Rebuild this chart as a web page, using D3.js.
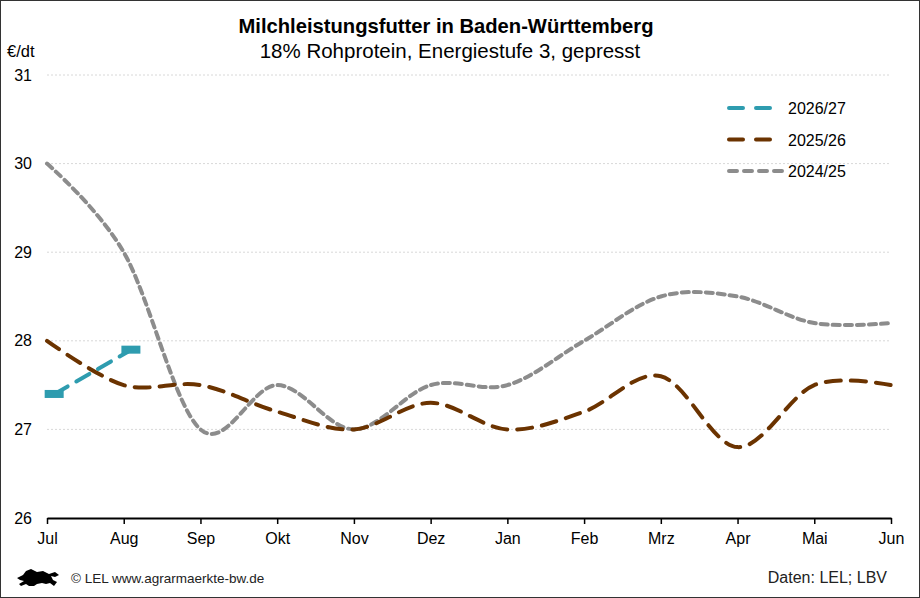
<!DOCTYPE html>
<html>
<head>
<meta charset="utf-8">
<script src="https://cdn.jsdelivr.net/npm/d3@7"></script>
<style>
  body { margin: 0; background: #fff; }
  svg { font-family: "Liberation Sans", Arial, sans-serif; }
</style>
</head>
<body>
<div id="chart"></div>
<script>
// months on the x axis (season Jul - Jun)
var months = ["Jul", "Aug", "Sep", "Okt", "Nov", "Dez", "Jan", "Feb", "Mrz", "Apr", "Mai", "Jun"];
var yTicks = [26, 27, 28, 29, 30, 31];

// €/dt values
var s2425 = [30.0, 29.0, 27.0, 27.5, 27.0, 27.5, 27.5, 28.0, 28.5, 28.5, 28.2, 28.2];
var s2526 = [28.0, 27.5, 27.5, 27.2, 27.0, 27.3, 27.0, 27.2, 27.6, 26.8, 27.5, 27.5];
// 2026/27 points sit a few days into the month
var s2627x = [0.1, 1.1];
var s2627 = [27.4, 27.9];

var W = 920, H = 598;
var margin = {top: 75, right: 29, bottom: 80, left: 47};
var width = W - margin.left - margin.right,
    height = H - margin.top - margin.bottom;

var svg = d3.select("#chart").append("svg")
    .attr("width", W)
    .attr("height", H);

// outer frame
svg.append("rect")
    .attr("x", 0.5).attr("y", 0.5)
    .attr("width", W - 1).attr("height", H - 1)
    .attr("fill", "#fff")
    .attr("stroke", "#333")
    .attr("stroke-width", 1);

var g = svg.append("g")
    .attr("transform", "translate(" + margin.left + "," + margin.top + ")");

var x = d3.scaleLinear().domain([0, months.length - 1]).range([0, width]);
var y = d3.scaleLinear().domain([26, 31]).range([height, 0]);

// gridlines
g.append("g")
    .selectAll("line")
    .data(yTicks.filter(function(d) { return d > 26; }))
    .enter().append("line")
      .attr("x1", 0).attr("x2", width)
      .attr("y1", function(d) { return y(d); })
      .attr("y2", function(d) { return y(d); })
      .attr("stroke", "#d8d8d8")
      .attr("stroke-width", 1)
      .attr("stroke-dasharray", "2,2");

// y axis labels (no line)
var yAxis = g.append("g")
    .call(d3.axisLeft(y).tickValues(yTicks).tickSize(0).tickPadding(15).tickFormat(d3.format("d")));
yAxis.select(".domain").remove();
yAxis.selectAll("text")
    .attr("font-size", "16px")
    .attr("font-family", "Liberation Sans, Arial, sans-serif")
    .attr("fill", "#000");

// x axis
var xAxis = g.append("g")
    .attr("transform", "translate(0," + height + ")")
    .call(d3.axisBottom(x)
      .tickValues(d3.range(months.length))
      .tickSize(6)
      .tickSizeOuter(0)
      .tickPadding(9)
      .tickFormat(function(i) { return months[i]; }));
xAxis.select(".domain").attr("stroke", "#000").attr("stroke-width", 2.2);
xAxis.selectAll(".tick line").attr("stroke", "#000").attr("stroke-width", 1.5);
xAxis.selectAll("text")
    .attr("font-size", "16px")
    .attr("font-family", "Liberation Sans, Arial, sans-serif")
    .attr("fill", "#000");

// lines
var line = d3.line()
    .x(function(d) { return x(d[0]); })
    .y(function(d) { return y(d[1]); })
    .curve(d3.curveCatmullRom.alpha(0));

var series = [
  {name: "2024/25", xs: d3.range(months.length), values: s2425, color: "#8c8c8c", dash: "7,5"},
  {name: "2025/26", xs: d3.range(months.length), values: s2526, color: "#6b3300", dash: "15,10"},
  {name: "2026/27", xs: s2627x, values: s2627, color: "#2e9caf", dash: "15,10"}
];

series.forEach(function(s) {
  g.append("path")
      .datum(s.xs.map(function(xi, i) { return [xi, s.values[i]]; }))
      .attr("fill", "none")
      .attr("stroke", s.color)
      .attr("stroke-width", 4)
      .attr("stroke-linecap", "round")
      .attr("stroke-dasharray", s.dash)
      .attr("d", line);
});

// dash markers on 2026/27
g.selectAll(".mk")
    .data(s2627x.map(function(xi, i) { return [xi, s2627[i]]; }))
    .enter().append("rect")
      .attr("class", "mk")
      .attr("x", function(d) { return x(d[0]) - 10; })
      .attr("y", function(d) { return y(d[1]) - 4; })
      .attr("width", 19)
      .attr("height", 8)
      .attr("fill", "#2e9caf");

// legend
var legendData = [series[2], series[1], series[0]];
var legend = svg.append("g").attr("transform", "translate(729,108)");
var keys = legend.selectAll(".key")
    .data(legendData)
    .enter().append("g")
      .attr("class", "key")
      .attr("transform", function(d, i) { return "translate(0," + (i * 31.5) + ")"; });
keys.append("line")
    .attr("x1", 0).attr("x2", function(d) { return d.name === "2024/25" ? 54 : 42; })
    .attr("y1", 0).attr("y2", 0)
    .attr("stroke", function(d) { return d.color; })
    .attr("stroke-width", 4)
    .attr("stroke-linecap", "round")
    .attr("stroke-dasharray", function(d) { return d.name === "2024/25" ? "8,7" : "14,13"; });
keys.append("text")
    .attr("x", 59)
    .attr("y", 6)
    .attr("font-size", "16px")
    .attr("fill", "#000")
    .text(function(d) { return d.name; });

// titles
svg.append("text")
    .attr("x", 446).attr("y", 33)
    .attr("text-anchor", "middle")
    .attr("font-size", "20.2px")
    .attr("font-weight", "bold")
    .text("Milchleistungsfutter in Baden-Württemberg");
svg.append("text")
    .attr("x", 450).attr("y", 58)
    .attr("text-anchor", "middle")
    .attr("font-size", "20.5px")
    .text("18% Rohprotein, Energiestufe 3, gepresst");
svg.append("text")
    .attr("x", 7).attr("y", 57)
    .attr("font-size", "16.5px")
    .text("€/dt");

// footer
svg.append("path")
    .attr("transform", "translate(17,569)")
    .attr("fill", "#000")
    .attr("d", "M0,9 L6,6 L9,2 L14,0 L20,3 L26,2 L32,5 L38,3 L42,6 L38,8 L34,7 L36,11 L40,13 L37,17 L33,14 L29,15 L25,14 L20,15 L17,17 L12,17 L9,15 L4,17 L2,15 L7,12 L3,11 Z");
svg.append("text")
    .attr("x", 71).attr("y", 583)
    .attr("font-size", "13.5px")
    .attr("fill", "#222")
    .text("© LEL www.agrarmaerkte-bw.de");
svg.append("text")
    .attr("x", 887).attr("y", 583)
    .attr("text-anchor", "end")
    .attr("font-size", "16px")
    .attr("fill", "#222")
    .text("Daten: LEL; LBV");
</script>
</body>
</html>
